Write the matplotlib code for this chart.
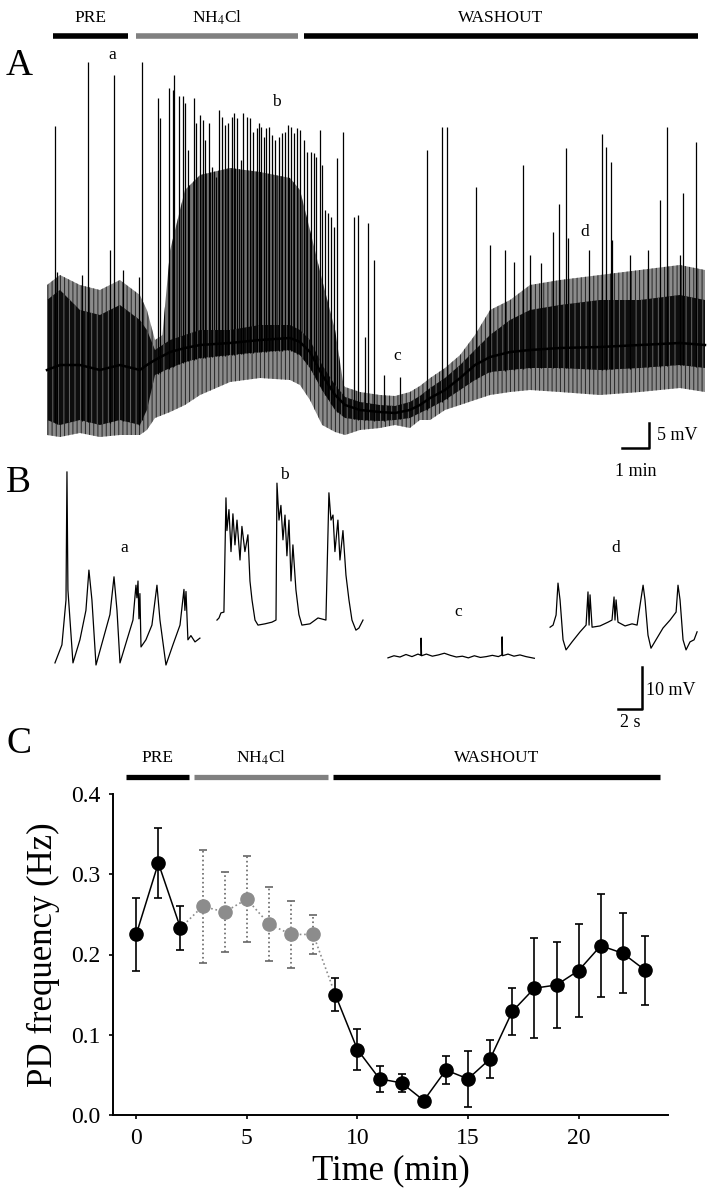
import numpy as np
import matplotlib
matplotlib.use('Agg')
import matplotlib.pyplot as plt
from matplotlib.ticker import FormatStrFormatter

plt.rcParams['font.family'] = ['Liberation Serif', 'DejaVu Serif']
plt.rcParams['mathtext.fontset'] = 'stix'
plt.rcParams['hatch.linewidth'] = 0.7

# ---- panel A : long recording (time in min, voltage in mV) ----
env_t = [0, 0.48, 1.22, 1.96, 2.70, 3.44, 3.70, 4.00, 4.56, 5.11, 5.67, 6.78,
         7.89, 9.00, 9.37, 9.74, 10.19, 10.67, 11.04, 11.59, 12.33, 12.89,
         13.44, 13.81, 14.19, 14.74, 15.30, 15.85, 16.41, 17.15, 17.89, 19.00,
         20.48, 21.96, 23.44, 24.37]
baseline = [13.4, 14.4, 14.4, 13.4, 14.4, 13.4, 14.4, 15.4, 17.0, 17.8, 18.4, 18.8,
            19.4, 19.8, 19.0, 17.0, 12.4, 8.4, 6.4, 5.4, 5.0, 4.8,
            5.4, 6.4, 7.8, 9.4, 11.8, 14.4, 16.0, 17.0, 17.4, 17.8,
            18.0, 18.4, 18.8, 18.4]
dense_hi = [27.4, 29.4, 25.4, 24.4, 26.4, 23.4, 21.4, 17.4, 19.4, 20.4, 21.4, 21.4,
            22.4, 22.4, 21.4, 19.4, 14.4, 10.4, 8.0, 7.0, 6.4, 6.2,
            7.0, 8.2, 9.8, 11.8, 14.4, 17.4, 20.4, 23.4, 25.4, 26.4,
            27.4, 27.4, 28.4, 27.4]
dense_lo = [3.4, 2.4, 3.4, 2.4, 3.4, 2.4, 5.4, 12.4, 13.8, 15.0, 15.8, 16.4,
            17.0, 17.4, 16.4, 13.8, 9.4, 5.4, 3.8, 3.4, 3.2, 3.4,
            3.8, 4.8, 5.8, 7.4, 9.4, 11.4, 13.0, 13.4, 13.8, 13.8,
            13.4, 13.8, 14.4, 13.8]
outer_hi = [30.4, 32.4, 30.4, 29.4, 31.4, 28.4, 25.4, 19.4, 21.4, 22.4, 23.4, 23.4,
            24.4, 24.4, 23.4, 21.4, 16.4, 12.4, 10.0, 9.0, 8.4, 8.2,
            9.0, 10.2, 11.8, 13.8, 16.4, 20.4, 25.4, 27.4, 30.4, 31.4,
            32.4, 33.4, 34.4, 33.4]
outer_lo = [0.4, 0.0, 0.8, 0.0, 0.4, 0.4, 1.4, 3.8, 5.0, 6.4, 8.4, 11.0,
            11.8, 11.4, 10.4, 7.4, 2.4, 1.0, 0.4, 1.4, 1.8, 2.4,
            1.8, 3.4, 3.4, 5.4, 6.4, 7.4, 8.4, 9.0, 9.4, 9.0,
            8.4, 9.0, 9.8, 9.0]

burst_t = [4.19, 4.56, 5.11, 5.67, 6.78, 7.89, 9.00, 9.37, 9.74, 10.19, 10.67, 11.04]
burst_top = [15.4, 37.4, 49.4, 52.4, 53.8, 53.0, 51.8, 49.4, 41.4, 31.4, 21.4, 8.4]

spike_t = [0.30, 1.52, 2.48, 3.52, 4.11, 4.19, 0.37, 1.30, 2.33, 2.81, 3.41,
           4.52, 4.67, 4.70, 4.89, 5.04, 5.11, 5.22, 5.44, 5.52, 5.67, 5.78, 5.85,
           6.00, 6.11, 6.26, 6.37, 6.48, 6.59, 6.70, 6.85, 6.93, 7.04, 7.19, 7.26,
           7.41, 7.52, 7.63, 7.78, 7.85, 7.93, 8.04, 8.11, 8.22, 8.33, 8.44, 8.59,
           8.70, 8.81, 8.93, 9.04, 9.15, 9.26, 9.37, 9.52, 9.63, 9.78, 9.89, 9.96,
           10.11, 10.19, 10.30, 10.41, 10.52, 10.63, 10.74, 10.96, 11.37, 11.52, 11.89,
           11.78, 12.11, 12.48, 13.07, 14.07, 14.63, 14.81, 15.89, 16.41, 16.96,
           17.30, 17.63, 17.89, 18.30, 18.74, 18.96, 19.22, 19.30, 20.07, 20.56,
           20.70, 20.89, 20.93, 21.59, 22.26, 22.70, 22.96, 23.44, 23.56, 24.04]
spike_v = [62.2, 75.0, 72.4, 75.0, 67.8, 63.8, 33.0, 32.4, 37.4, 33.4, 32.0,
           69.8, 69.4, 72.4, 68.2, 68.2, 66.8, 57.4, 67.8, 62.8, 64.4, 63.4, 59.4,
           62.8, 54.0, 52.0, 65.4, 64.0, 62.4, 62.8, 64.0, 64.8, 63.8, 55.4, 64.8,
           64.0, 63.8, 61.0, 61.8, 62.8, 62.0, 60.0, 61.8, 62.0, 60.4, 59.4, 60.0,
           60.8, 61.0, 62.4, 62.0, 60.8, 61.8, 61.4, 59.4, 57.0, 57.0, 56.8, 56.0,
           61.4, 54.4, 45.4, 44.8, 44.0, 42.0, 55.8, 61.0, 44.0, 44.4, 42.8,
           20.0, 35.4, 12.4, 12.0, 57.4, 62.0, 62.0, 50.0, 38.4, 37.4,
           35.0, 54.4, 36.4, 34.8, 41.0, 46.6, 57.8, 39.8, 37.4, 60.6,
           58.0, 55.0, 39.4, 36.4, 37.4, 47.4, 62.0, 36.4, 48.8, 59.0]

phases_A = [(0.22, 3.0, 'PRE'), (3.3, 9.3, 'NH$_4$Cl'), (9.5, 24.1, 'WASHOUT')]
marks_A = [('a', 2.4, 76.4), ('b', 8.5, 67.0), ('c', 12.96, 16.2), ('d', 19.9, 41.0)]

# ---- panel B : expanded traces (time in s, voltage in mV) ----
trace_a_t = [0, 0.58, 0.92, 1.0, 1.08, 1.5, 2.08, 2.58, 2.83, 3.08, 3.42, 4.0, 4.58,
             4.92, 5.17, 5.42, 6.0, 6.5, 6.75, 6.83, 6.92, 7.0, 7.08, 7.17, 7.58,
             8.08, 8.5, 8.75, 9.25, 9.83, 10.42, 10.75, 10.83, 10.92, 11.08, 11.33,
             11.67, 12.08]
trace_a_v = [0.5, 4.8, 15.5, 46.0, 17.9, 0.5, 6.0, 13.0, 22.6, 15.5, 0.0, 6.0, 12.0,
             21.0, 13.0, 0.5, 6.0, 10.7, 19.0, 16.0, 20.0, 11.0, 17.0, 4.3, 6.0,
             9.5, 19.0, 10.7, 0.0, 4.8, 9.5, 18.0, 13.0, 17.5, 6.0, 7.0,
             5.5, 6.4]
trace_b_t = [0, 0.17, 0.33, 0.58, 0.75, 0.83, 1.0, 1.17, 1.33, 1.5, 1.67, 1.92, 2.08,
             2.33, 2.58, 2.75, 2.92, 3.17, 3.42, 4.0, 4.58, 4.92, 5.0, 5.17, 5.33,
             5.5, 5.67, 5.83, 6.0, 6.17, 6.33, 6.58, 6.83, 7.08, 7.75, 8.42, 9.08,
             9.33, 9.5, 9.67, 9.83, 10.08, 10.25, 10.5, 10.75, 11.0, 11.25, 11.58,
             11.83, 12.17]
trace_b_v = [10.7, 11.2, 12.4, 12.6, 39.8, 32.0, 37.0, 27.0, 36.0, 28.6, 34.5, 25.0, 33.0,
             27.0, 31.0, 20.0, 15.5, 10.7, 9.5, 9.8, 10.2, 10.7, 43.3, 34.5, 38.0,
             29.8, 35.7, 26.0, 34.5, 20.0, 28.6, 17.9, 12.0, 9.5, 9.8, 11.2, 10.7,
             41.0, 34.5, 35.7, 27.0, 34.5, 25.0, 32.0, 21.4, 15.5, 10.7, 8.3,
             8.8, 10.7]
trace_c_t = [0, 0.5, 1.0, 1.5, 2.0, 2.5, 2.75, 2.76, 2.8, 3.2, 3.7, 4.2, 4.7, 5.2,
             5.7, 6.2, 6.7, 7.2, 7.7, 8.2, 8.7, 9.2, 9.5, 9.51, 9.55, 10.0, 10.5,
             11.0, 11.5, 12.2]
trace_c_v = [1.7, 2.2, 1.9, 2.5, 2.0, 2.6, 2.3, 6.4, 2.2, 2.6, 2.1, 2.4, 2.8, 2.3,
             1.9, 2.1, 1.7, 2.2, 1.8, 2.0, 2.3, 2.0, 2.4, 6.7, 2.2, 2.6, 2.1,
             2.4, 2.0, 1.6]
trace_d_t = [0.17, 0.42, 0.67, 0.83, 1.0, 1.25, 1.5, 2.0, 2.67, 3.17, 3.33, 3.42, 3.5,
             3.67, 4.33, 5.0, 5.33, 5.5, 5.58, 5.67, 5.83, 6.42, 7.0, 7.42, 7.67,
             7.92, 8.08, 8.33, 8.58, 9.08, 9.58, 10.17, 10.67, 10.83, 11.0, 11.25,
             11.5, 11.83, 12.17, 12.42]
trace_d_v = [9.0, 9.5, 11.9, 19.5, 15.5, 6.0, 3.6, 5.5, 7.9, 9.5, 17.4, 9.5, 16.7,
             9.0, 9.3, 10.2, 10.7, 16.2, 10.7, 15.5, 10.2, 9.3, 9.8, 9.5, 14.3,
             19.0, 15.5, 7.1, 4.0, 6.4, 8.8, 10.7, 12.6, 19.0, 15.5, 6.0,
             3.6, 5.5, 6.0, 7.9]
traces_B = [('a', trace_a_t, trace_a_v, 4.58, (10.33, 27.9)),
            ('b', trace_b_t, trace_b_v, 18.08, (23.67, 45.2)),
            ('c', trace_c_t, trace_c_v, 32.33, (38.17, 12.6)),
            ('d', trace_d_t, trace_d_v, 45.67, (51.33, 27.9))]

# ---- panel C : PD frequency ----
time_c = [0, 1, 2, 3, 4, 5, 6, 7, 8, 9, 10, 11, 12, 13, 14, 15, 16, 17, 18, 19, 20, 21, 22, 23]
freq_c = [0.225, 0.314, 0.233, 0.260, 0.253, 0.269, 0.238, 0.225, 0.225, 0.150, 0.0815, 0.045,
          0.040, 0.018, 0.056, 0.045, 0.070, 0.129, 0.158, 0.162, 0.180, 0.211, 0.2015, 0.1806]
sem_c = [0.045, 0.044, 0.027, 0.070, 0.050, 0.054, 0.046, 0.042, 0.024, 0.021, 0.026, 0.016,
         0.011, 0.004, 0.017, 0.035, 0.024, 0.029, 0.062, 0.053, 0.058, 0.064, 0.050, 0.043]
nh4_idx = [3, 4, 5, 6, 7, 8]
phases_C = [(-0.47, 2.38, 'PRE'), (2.62, 8.68, 'NH$_4$Cl'), (8.9, 23.7, 'WASHOUT')]

W, H = 708, 1200
fig = plt.figure(figsize=(W / 100, H / 100), dpi=100)


def px_axes(x0, y0, x1, y1):
    return fig.add_axes([x0 / W, 1 - y1 / H, (x1 - x0) / W, (y1 - y0) / H])


def phase_bars(ax, phases, ybar, ylab, lw, fs):
    for start, end, label in phases:
        col = '0.5' if 'NH' in label else 'k'
        ax.plot([start, end], [ybar, ybar], color=col, lw=lw, solid_capstyle='butt', clip_on=False)
        ax.text((start + end) / 2, ylab, label, ha='center', va='center', fontsize=fs)


# panel letters, placed in pixels
for letter, ypx in [('A', 66), ('B', 483), ('C', 744)]:
    fig.text(6 / W, 1 - ypx / H, letter, fontsize=27, ha='left', va='center')

# Panel A
axA = px_axes(0, 0, W, 460)
axA.set_xlim(-47 / 27, 661 / 27)
axA.set_ylim((437 - 460) / 5, 437 / 5)
axA.axis('off')
axA.fill_between(env_t, outer_lo, outer_hi, facecolor='0.55', edgecolor='0.15', hatch='||||', lw=0)
axA.fill_between(burst_t, np.interp(burst_t, env_t, dense_lo), burst_top,
                 facecolor='0.45', edgecolor='k', hatch='||||', lw=0)
axA.fill_between(env_t, dense_lo, dense_hi, facecolor='0.05', edgecolor='0.4', hatch='|||', lw=0)
axA.plot(env_t, baseline, color='k', lw=1.8)
axA.vlines(spike_t, np.interp(spike_t, env_t, dense_lo), spike_v, color='k', lw=0.9)
phase_bars(axA, phases_A, 80.2, 83.8, 4, 12.5)
for lab, tx, vy in marks_A:
    axA.text(tx, vy, lab, ha='center', va='center', fontsize=12.5)
axA.plot([21.3, 22.3, 22.3], [-2.2, -2.2, 2.8], color='k', lw=1.8)
axA.text(22.6, 0.4, '5 mV', fontsize=13, va='center', ha='left')
axA.text(21.8, -7.0, '1 min', fontsize=13, va='center', ha='center')

# Panel B
axB = px_axes(0, 460, W, 745)
axB.set_xlim(0, W / 12)
axB.set_ylim((665 - 745) / 4.2, (665 - 460) / 4.2)
axB.axis('off')
for lab, tt, vv, off, (lx, ly) in traces_B:
    axB.plot(np.array(tt) + off, vv, color='k', lw=0.9)
    axB.text(lx, ly, lab, ha='center', va='center', fontsize=12.5)
axB.plot([51.5, 53.5, 53.5], [-10.5, -10.5, -0.5], color='k', lw=1.8)
axB.text(53.85, -6, '10 mV', fontsize=13, va='center', ha='left')
axB.text(52.5, -13.6, '2 s', fontsize=13, va='center', ha='center')

# Panel C
axC = px_axes(113, 794, 668, 1115)
axC.set_xlim(-1.05, 24.04)
axC.set_ylim(0, 0.4)
for s in ['top', 'right']:
    axC.spines[s].set_visible(False)
axC.spines['left'].set_linewidth(1.4)
axC.spines['bottom'].set_linewidth(1.4)

t = np.array(time_c)
f = np.array(freq_c)
e = np.array(sem_c)
is_nh4 = np.isin(t, nh4_idx)

axC.plot(t[:3], f[:3], color='k', lw=1.1, zorder=2)
axC.plot(t[2:10], f[2:10], color='0.55', lw=1.2, ls=':', zorder=2)
axC.plot(t[9:], f[9:], color='k', lw=1.1, zorder=2)

eb = axC.errorbar(t[~is_nh4], f[~is_nh4], yerr=e[~is_nh4], fmt='none', ecolor='k',
                  elinewidth=1.2, capsize=3, capthick=1.2, zorder=1)
eb2 = axC.errorbar(t[is_nh4], f[is_nh4], yerr=e[is_nh4], fmt='none', ecolor='0.4',
                   elinewidth=1.2, capsize=3, capthick=1.2, zorder=1)
eb2[2][0].set_linestyle(':')
axC.plot(t[~is_nh4], f[~is_nh4], 'o', color='k', ms=9.5, zorder=3, clip_on=False)
axC.plot(t[is_nh4], f[is_nh4], 'o', color='0.55', ms=9.5, zorder=3)

axC.set_xticks([0, 5, 10, 15, 20])
axC.set_yticks([0, 0.1, 0.2, 0.3, 0.4])
axC.yaxis.set_major_formatter(FormatStrFormatter('%.1f'))
axC.tick_params(direction='out', length=3, width=1.2, labelsize=17, pad=6)
axC.set_xlabel('Time (min)', fontsize=25, labelpad=4)
axC.set_ylabel('PD frequency (Hz)', fontsize=25, labelpad=8)
phase_bars(axC, phases_C, 0.4 + 17 / 802.5, 0.4 + 36 / 802.5, 3.8, 12.5)

fig.savefig('out.png', dpi=100)
